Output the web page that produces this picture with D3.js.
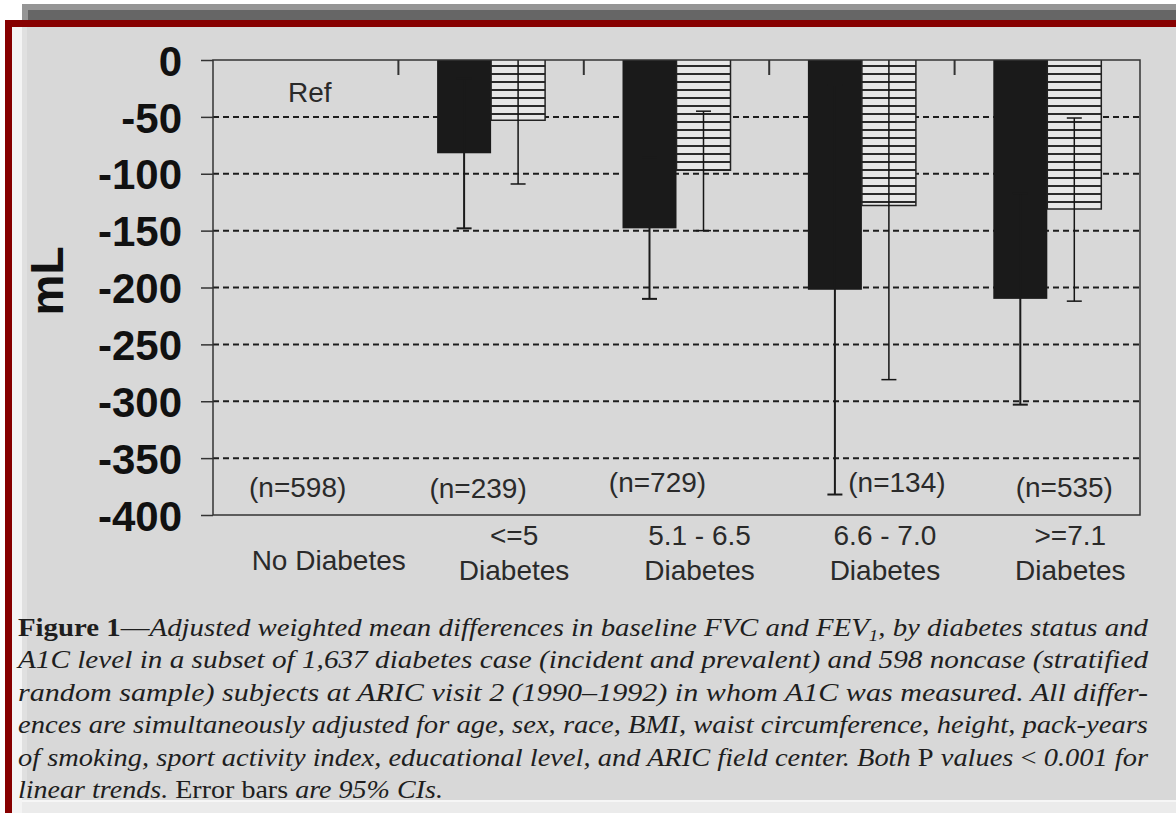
<!DOCTYPE html>
<html>
<head>
<meta charset="utf-8">
<script src="https://cdn.jsdelivr.net/npm/d3@7"></script>
<style>
  body { margin: 0; background: #fff; }
  svg { display: block; }
</style>
</head>
<body>
<div id="chart"></div>
<script>
// data (mL, difference vs. no diabetes)
const categories = ['No Diabetes', '<=5', '5.1 - 6.5', '6.6 - 7.0', '>=7.1']
const categoryLines = [['No Diabetes'], ['<=5', 'Diabetes'], ['5.1 - 6.5', 'Diabetes'], ['6.6 - 7.0', 'Diabetes'], ['>=7.1', 'Diabetes']]
const sampleSizes = ['(n=598)', '(n=239)', '(n=729)', '(n=134)', '(n=535)']
const series = ['FVC', 'FEV1']
const fvcValues = [null, -82, -148, -202, -210]
const fvcLower = [null, -148, -210, -382, -303]
const fvcUpper = [null, -16, -86, -22, -117]
const fev1Values = [null, -53, -97, -128, -131]
const fev1Lower = [null, -109, -150, -281, -212]
const fev1Upper = [null, 3, -45, 25, -51]
const yTicks = [0, -50, -100, -150, -200, -250, -300, -350, -400]
const gridTicks = [-50, -100, -150, -200, -250, -300, -350]
const refLabel = 'Ref'
const yLabel = 'mL'

const captionLines = [
  [['b', 'Figure 1'], ['r', '—'], ['i', 'Adjusted weighted mean differences in baseline FVC and FEV'], ['sub', '1'], ['i', ', by diabetes status and']],
  [['i', 'A1C level in a subset of 1,637 diabetes case (incident and prevalent) and 598 noncase (stratified']],
  [['i', 'random sample) subjects at ARIC visit 2 (1990–1992) in whom A1C was measured. All differ-']],
  [['i', 'ences are simultaneously adjusted for age, sex, race, BMI, waist circumference, height, pack-years']],
  [['i', 'of smoking, sport activity index, educational level, and ARIC field center. Both '], ['r', 'P'], ['i', ' values '], ['r', '<'], ['i', ' 0.001 for']],
  [['i', 'linear trends. '], ['r', 'Error bars'], ['i', ' are 95% CIs.']]
]

const width = 1176
const height = 813
const plot = { left: 213, right: 1140, top: 60, bottom: 515 }
const sansFont = '"Liberation Sans", Arial, sans-serif'
const serifFont = '"Liberation Serif", "Times New Roman", serif'
const barBlack = '#1a1a1a'

const x = d3.scaleBand().domain(categories).range([plot.left, plot.right])
const xInner = d3.scaleBand().domain(series).range([-54, 54])
const y = d3.scaleLinear().domain([0, -400]).range([plot.top, plot.bottom])

const rows = []
categories.forEach((c, i) => {
  if (fvcValues[i] === null) return
  rows.push({ category: c, series: 'FVC', value: fvcValues[i], lower: fvcLower[i], upper: fvcUpper[i] })
  rows.push({ category: c, series: 'FEV1', value: fev1Values[i], lower: fev1Lower[i], upper: fev1Upper[i] })
})
const barX = d => x(d.category) + x.bandwidth() / 2 + xInner(d.series)
const barMid = d => barX(d) + xInner.bandwidth() / 2

const svg = d3.select('#chart')
  .append('svg')
  .attr('width', width)
  .attr('height', height)

// page frame
svg.append('rect').attr('x', 22).attr('y', 4).attr('width', width - 22).attr('height', 17).attr('fill', '#959595')
svg.append('rect').attr('x', 28).attr('y', 10).attr('width', width - 28).attr('height', 11).attr('fill', '#666')
svg.append('rect').attr('x', 5).attr('y', 20).attr('width', width - 5).attr('height', height - 20).attr('fill', '#870000')
svg.append('rect').attr('x', 12).attr('y', 27).attr('width', width - 12).attr('height', height - 27).attr('fill', '#f4f4f4')
svg.append('rect').attr('x', 22).attr('y', 27).attr('width', width - 22).attr('height', 773).attr('fill', '#e0e0e0')
svg.append('rect').attr('x', 27).attr('y', 27).attr('width', width - 27).attr('height', 773).attr('fill', '#d8d8d8')
svg.append('rect').attr('x', 22).attr('y', 800).attr('width', width - 22).attr('height', 2).attr('fill', '#f6f6f6')
svg.append('rect').attr('x', 22).attr('y', 802).attr('width', width - 22).attr('height', 11).attr('fill', '#ebebeb')

const defs = svg.append('defs')
const hatch = defs.append('pattern')
  .attr('id', 'hatch')
  .attr('patternUnits', 'userSpaceOnUse')
  .attr('width', 8)
  .attr('height', 8)
  .attr('y', plot.top + 2)
hatch.append('rect').attr('width', 8).attr('height', 8).attr('fill', '#e6e6e6')
hatch.append('rect').attr('y', 3).attr('width', 8).attr('height', 2).attr('fill', '#2a2a2a')

defs.append('clipPath')
  .attr('id', 'plot-clip')
  .append('rect')
  .attr('x', plot.left)
  .attr('y', plot.top)
  .attr('width', plot.right - plot.left)
  .attr('height', plot.bottom - plot.top)

// dashed grid
svg.append('g')
  .selectAll('line')
  .data(gridTicks)
  .join('line')
  .attr('x1', plot.left)
  .attr('x2', plot.right)
  .attr('y1', d => y(d))
  .attr('y2', d => y(d))
  .attr('stroke', '#1e1e1e')
  .attr('stroke-width', 2)
  .attr('stroke-dasharray', '6,4')

// bars
const bars = svg.append('g').classed('bars', true)
bars.selectAll('rect')
  .data(rows)
  .join('rect')
  .attr('x', barX)
  .attr('y', y(0))
  .attr('width', xInner.bandwidth())
  .attr('height', d => y(d.value) - y(0))
  .attr('fill', d => d.series === 'FVC' ? barBlack : 'url(#hatch)')

bars.selectAll('path')
  .data(rows.filter(d => d.series === 'FEV1'))
  .join('path')
  .attr('fill', 'none')
  .attr('stroke', '#222')
  .attr('stroke-width', 1.5)
  .attr('d', d => `M${barX(d)},${y(0)}V${y(d.value)}H${barX(d) + xInner.bandwidth()}V${y(0)}`)

// error bars
const errors = svg.append('g')
  .attr('clip-path', 'url(#plot-clip)')
  .selectAll('g')
  .data(rows)
  .join('g')
  .attr('stroke', d => d.series === 'FVC' ? barBlack : '#151515')
  .attr('stroke-width', d => d.series === 'FVC' ? 2 : 1.5)
errors.append('line')
  .attr('x1', barMid)
  .attr('x2', barMid)
  .attr('y1', d => y(d.upper))
  .attr('y2', d => y(d.lower))
errors.selectAll('.cap')
  .data(d => [d.lower, d.upper].map(v => ({ row: d, v })))
  .join('line')
  .classed('cap', true)
  .attr('x1', d => barMid(d.row) - 7.5)
  .attr('x2', d => barMid(d.row) + 7.5)
  .attr('y1', d => y(d.v))
  .attr('y2', d => y(d.v))

// frame of the plot
svg.append('rect')
  .attr('x', plot.left)
  .attr('y', plot.top)
  .attr('width', plot.right - plot.left)
  .attr('height', plot.bottom - plot.top)
  .attr('fill', 'none')
  .attr('stroke', '#333')
  .attr('stroke-width', 1.5)

// category boundary ticks on top
svg.append('g')
  .selectAll('line')
  .data(categories.slice(1))
  .join('line')
  .attr('x1', d => x(d))
  .attr('x2', d => x(d))
  .attr('y1', plot.top)
  .attr('y2', plot.top + 15)
  .attr('stroke', '#333')
  .attr('stroke-width', 2)

// create y-axis
const yAxis = d3.axisLeft(y)
  .tickValues(yTicks)
  .tickSize(12)
  .tickPadding(19)
  .tickFormat(d => String(d))
const yAxisG = svg.append('g')
  .attr('transform', `translate(${plot.left}, 0)`)
  .call(yAxis)
yAxisG.select('.domain').remove()
yAxisG.selectAll('.tick line').attr('stroke', '#333').attr('stroke-width', 1.5)
yAxisG.selectAll('.tick text')
  .attr('font-family', sansFont)
  .attr('font-size', 42)
  .attr('font-weight', 'bold')
  .attr('fill', '#111')
  .attr('dy', '0.36em')

svg.append('text')
  .attr('transform', 'translate(63, 281) rotate(-90)')
  .attr('text-anchor', 'middle')
  .attr('font-family', sansFont)
  .attr('font-size', 46)
  .attr('font-weight', 'bold')
  .attr('fill', '#111')
  .text(yLabel)

svg.append('text')
  .attr('x', x(categories[0]) + x.bandwidth() / 2 + 4)
  .attr('y', 102)
  .attr('text-anchor', 'middle')
  .attr('font-family', sansFont)
  .attr('font-size', 28)
  .attr('fill', '#2a2a2a')
  .text(refLabel)

// sample sizes inside the plot
const nNudge = [[-8, 497], [-13, 498], [-19, 492], [35, 492], [17, 497]]
svg.append('g')
  .selectAll('text')
  .data(sampleSizes)
  .join('text')
  .attr('x', (d, i) => x(categories[i]) + x.bandwidth() / 2 + nNudge[i][0])
  .attr('y', (d, i) => nNudge[i][1])
  .attr('text-anchor', 'middle')
  .attr('font-family', sansFont)
  .attr('font-size', 28)
  .attr('fill', '#2a2a2a')
  .text(d => d)

// category labels
const catText = svg.append('g')
  .selectAll('text')
  .data(categoryLines)
  .join('text')
  .attr('text-anchor', 'middle')
  .attr('font-family', sansFont)
  .attr('font-size', 28)
  .attr('fill', '#2a2a2a')
  .attr('transform', (d, i) => `translate(${x(categories[i]) + x.bandwidth() / 2 + 23}, 0)`)
catText.selectAll('tspan')
  .data(d => d.map((t, j) => ({ t, y: d.length === 1 ? 570 : [545, 580][j] })))
  .join('tspan')
  .attr('x', 0)
  .attr('y', d => d.y)
  .text(d => d.t)

// caption
const captionLengths = [1130, 1130, 1130, 1130, 1130, 425]
const caption = svg.append('g')
  .selectAll('text')
  .data(captionLines)
  .join('text')
  .attr('x', 18)
  .attr('y', (d, i) => 636 + 32.4 * i)
  .attr('font-family', serifFont)
  .attr('font-size', 26)
  .attr('fill', '#1e1e1e')
  .attr('textLength', (d, i) => captionLengths[i])
  .attr('lengthAdjust', 'spacingAndGlyphs')
caption.selectAll('tspan')
  .data(d => d)
  .join('tspan')
  .attr('font-weight', d => d[0] === 'b' ? 'bold' : null)
  .attr('font-style', d => d[0] === 'i' || d[0] === 'sub' ? 'italic' : null)
  .attr('font-size', d => d[0] === 'sub' ? 17 : null)
  .attr('baseline-shift', d => d[0] === 'sub' ? '-5' : null)
  .text(d => d[1])
</script>
</body>
</html>
